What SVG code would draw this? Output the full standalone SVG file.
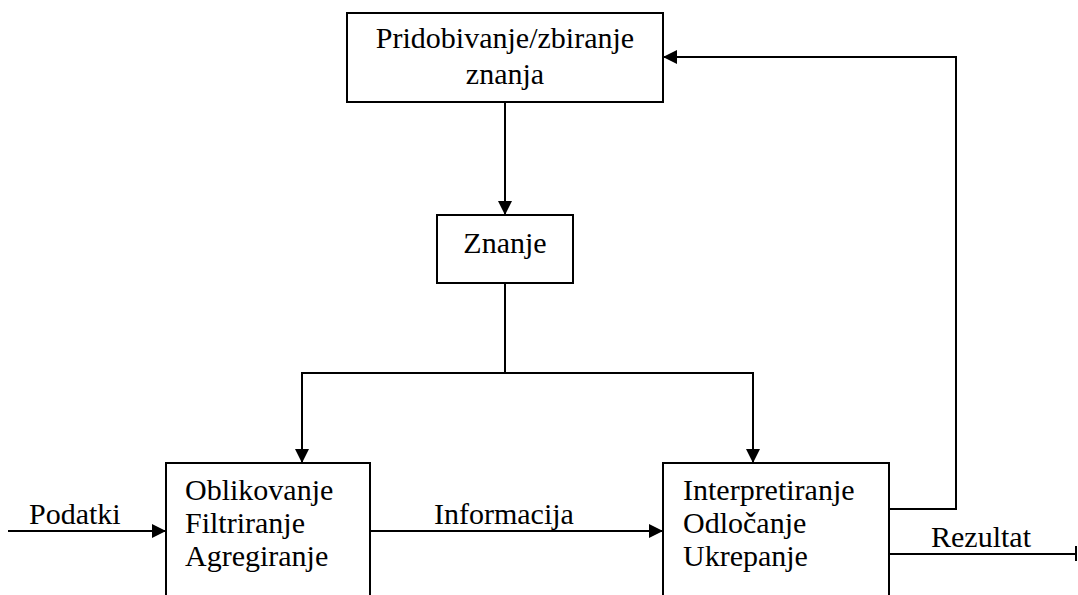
<svg xmlns="http://www.w3.org/2000/svg" width="1078" height="595" viewBox="0 0 1078 595" font-family="'Liberation Serif', 'Times New Roman', serif" font-size="30">
  <style>
    .box { fill: #ffffff; stroke: #000000; stroke-width: 2; }
    .wire { fill: none; stroke: #000000; stroke-width: 2; }
    .label { font-family: 'Liberation Serif', 'Times New Roman', serif; font-size: 30px; fill: #000000; }
  </style>
  <defs>
    <marker id="arrow" viewBox="0 0 14 14" refX="14" refY="7" markerWidth="14" markerHeight="14" markerUnits="userSpaceOnUse" orient="auto">
      <path d="M0,0 L14,7 L0,14 Z" fill="#000000"/>
    </marker>
  </defs>

  <rect width="1078" height="595" fill="#ffffff"/>

  <!-- connectors -->
  <g id="connectors">
    <path class="wire" d="M505,102 L505,215" marker-end="url(#arrow)"/>
    <path class="wire" d="M505,283 L505,373"/>
    <path class="wire" d="M505,373 L302,373 L302,463" marker-end="url(#arrow)"/>
    <path class="wire" d="M505,373 L753,373 L753,463" marker-end="url(#arrow)"/>
    <path class="wire" d="M8,531 L166,531" marker-end="url(#arrow)"/>
    <path class="wire" d="M370,531 L663,531" marker-end="url(#arrow)"/>
    <path class="wire" d="M889,509 L956,509 L956,57 L663,57" marker-end="url(#arrow)"/>
    <path class="wire" d="M889,554 L1076,554"/>
    <path class="wire" d="M1076,546 L1076,561"/>
    <text class="label" x="29" y="524">Podatki</text>
    <text class="label" x="434" y="524">Informacija</text>
    <text class="label" x="931" y="547">Rezultat</text>
  </g>

  <!-- knowledge acquisition -->
  <g id="node-acquisition">
    <rect class="box" x="347" y="13" width="316" height="89"/>
    <text class="label" x="505" y="48" text-anchor="middle">Pridobivanje/zbiranje</text>
    <text class="label" x="505" y="84" text-anchor="middle">znanja</text>
  </g>

  <!-- knowledge -->
  <g id="node-knowledge">
    <rect class="box" x="437" y="215" width="136" height="68"/>
    <text class="label" x="505" y="253" text-anchor="middle">Znanje</text>
  </g>

  <!-- preprocessing -->
  <g id="node-preprocessing">
    <rect class="box" x="166" y="463" width="204" height="150"/>
    <text class="label" x="185" y="500">Oblikovanje</text>
    <text class="label" x="185" y="533">Filtriranje</text>
    <text class="label" x="185" y="566">Agregiranje</text>
  </g>

  <!-- decision -->
  <g id="node-decision">
    <rect class="box" x="663" y="463" width="226" height="150"/>
    <text class="label" x="683" y="500">Interpretiranje</text>
    <text class="label" x="683" y="533">Odločanje</text>
    <text class="label" x="683" y="566">Ukrepanje</text>
  </g>
</svg>
